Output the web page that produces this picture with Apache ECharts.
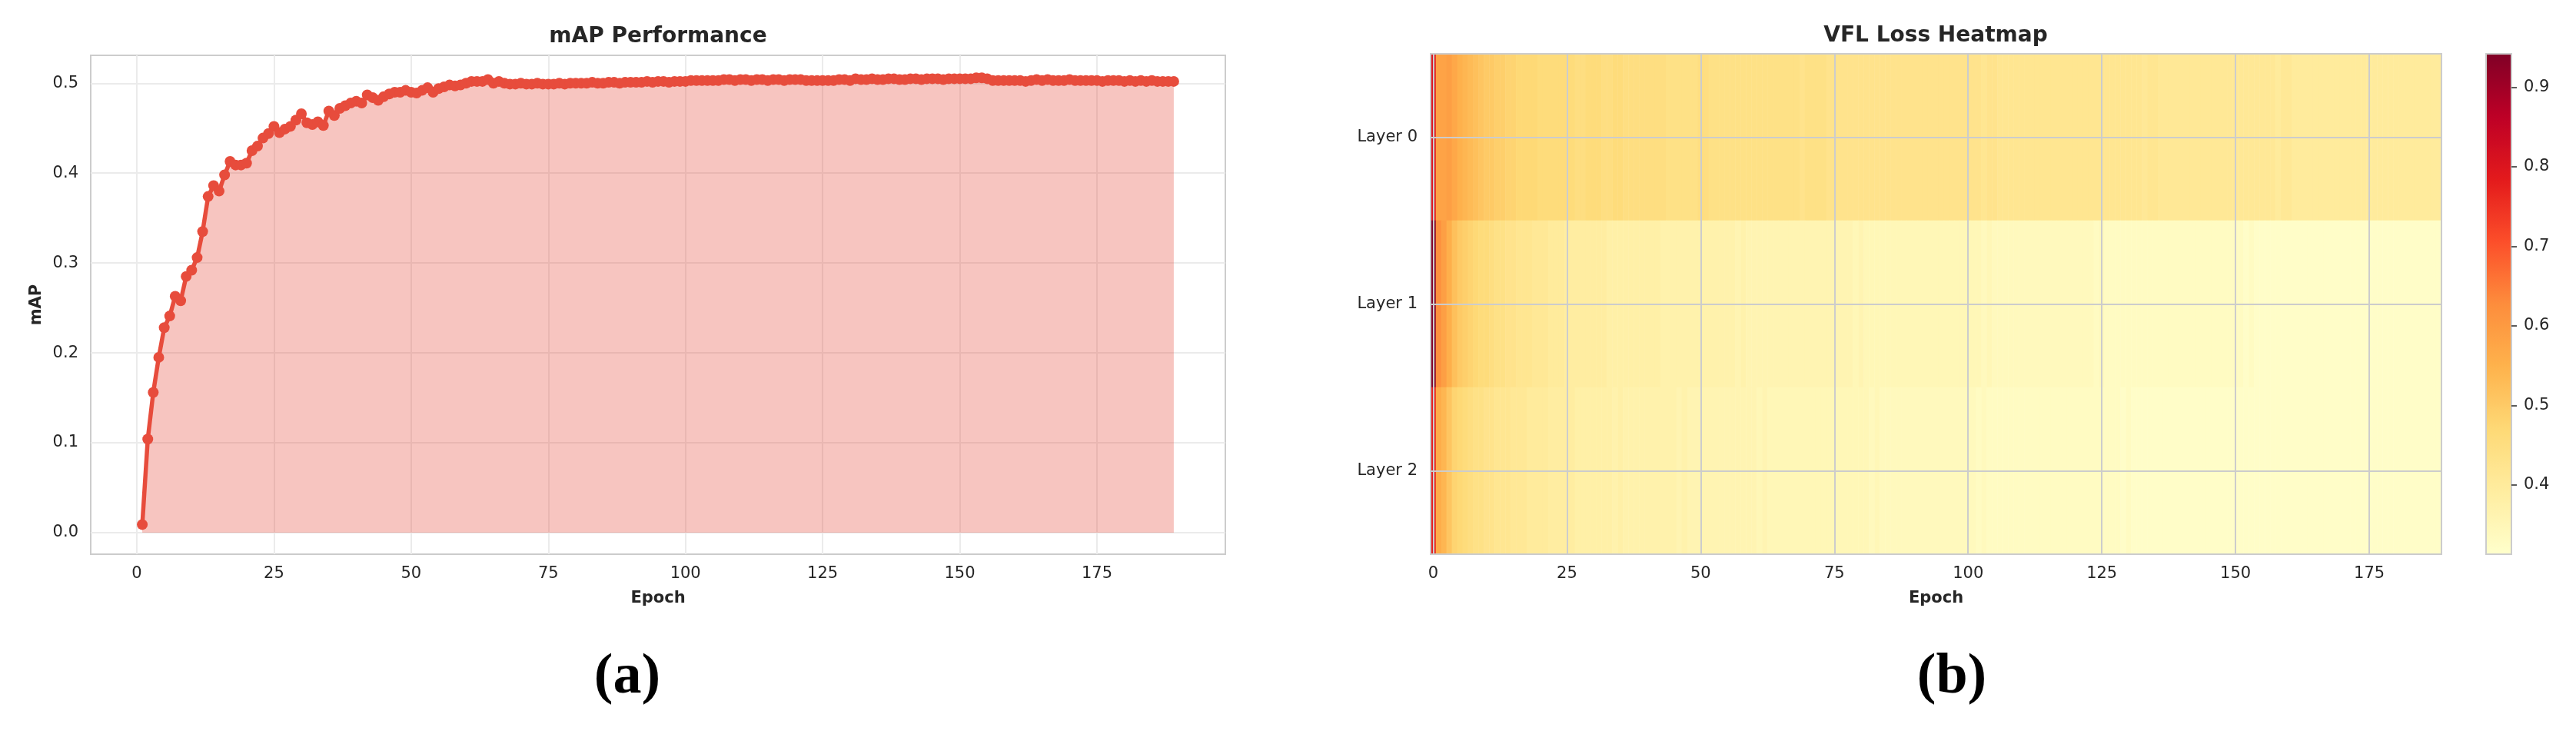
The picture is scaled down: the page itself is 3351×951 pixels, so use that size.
<!DOCTYPE html>
<html>
<head>
<meta charset="utf-8">
<script src="https://cdn.jsdelivr.net/npm/echarts@6.0.0/dist/echarts.min.js"></script>
<style>
  html, body { margin: 0; padding: 0; background: #fff; }
  #chart { width: 3351px; height: 951px; }
</style>
</head>
<body>
<div id="chart"></div>
<script>
// mAP per epoch, epochs 1..189
const mapValues = [
  0.009, 0.104, 0.156, 0.195, 0.228, 0.241, 0.263, 0.258, 0.285, 0.292,
  0.306, 0.335, 0.374, 0.386, 0.380, 0.398, 0.413, 0.409, 0.409, 0.411,
  0.425, 0.430, 0.439, 0.444, 0.452, 0.445, 0.449, 0.452, 0.459, 0.466,
  0.456, 0.454, 0.457, 0.453, 0.469, 0.464, 0.472, 0.475, 0.478, 0.480,
  0.478, 0.487, 0.484, 0.481, 0.485, 0.488, 0.490, 0.490, 0.492, 0.490,
  0.489, 0.492, 0.495, 0.490, 0.494, 0.496, 0.498, 0.497, 0.498, 0.500,
  0.502, 0.502, 0.502, 0.504, 0.500, 0.502, 0.500, 0.499, 0.499, 0.500,
  0.499, 0.499, 0.500, 0.499, 0.499, 0.499, 0.500, 0.499, 0.500, 0.500,
  0.500, 0.500, 0.501, 0.500, 0.500, 0.501, 0.501, 0.500, 0.501, 0.501,
  0.501, 0.501, 0.502, 0.501, 0.502, 0.502, 0.501, 0.502, 0.502, 0.502,
  0.503, 0.503, 0.503, 0.503, 0.503, 0.503, 0.504, 0.504, 0.503, 0.504,
  0.504, 0.503, 0.504, 0.504, 0.503, 0.504, 0.504, 0.503, 0.504, 0.504,
  0.504, 0.503, 0.503, 0.503, 0.503, 0.503, 0.503, 0.504, 0.504, 0.503,
  0.505, 0.504, 0.504, 0.505, 0.504, 0.504, 0.505, 0.505, 0.504, 0.504,
  0.505, 0.505, 0.504, 0.505, 0.505, 0.505, 0.504, 0.505, 0.505, 0.505,
  0.505, 0.505, 0.506, 0.506, 0.505, 0.503, 0.503, 0.503, 0.503, 0.503,
  0.503, 0.502, 0.503, 0.504, 0.503, 0.504, 0.503, 0.503, 0.503, 0.504,
  0.503, 0.503, 0.503, 0.503, 0.503, 0.502, 0.503, 0.503, 0.503, 0.502,
  0.503, 0.502, 0.503, 0.502, 0.503, 0.502, 0.502, 0.502, 0.502
];

// VFL loss per layer, epochs 0..188
const layerNames = ['Layer 0', 'Layer 1', 'Layer 2'];
const layer0Loss = [
  0.80, 0.58, 0.58, 0.59, 0.57, 0.55, 0.54, 0.53, 0.52, 0.51,
  0.50, 0.50, 0.49, 0.49, 0.48, 0.48, 0.47, 0.47, 0.47, 0.47,
  0.46, 0.46, 0.46, 0.46, 0.46, 0.46, 0.46, 0.45, 0.45, 0.46,
  0.46, 0.46, 0.45, 0.45, 0.46, 0.46, 0.45, 0.45, 0.45, 0.45,
  0.45, 0.45, 0.45, 0.45, 0.44, 0.44, 0.44, 0.44, 0.44, 0.44,
  0.45, 0.45, 0.44, 0.44, 0.44, 0.44, 0.44, 0.44, 0.44, 0.44,
  0.44, 0.44, 0.44, 0.44, 0.44, 0.44, 0.44, 0.44, 0.44, 0.43,
  0.44, 0.44, 0.44, 0.44, 0.43, 0.43, 0.43, 0.43, 0.43, 0.43,
  0.43, 0.43, 0.43, 0.43, 0.43, 0.43, 0.43, 0.43, 0.43, 0.43,
  0.43, 0.43, 0.43, 0.43, 0.43, 0.43, 0.43, 0.43, 0.43, 0.43,
  0.43, 0.43, 0.43, 0.42, 0.43, 0.43, 0.42, 0.42, 0.42, 0.42,
  0.42, 0.42, 0.42, 0.42, 0.42, 0.42, 0.42, 0.42, 0.42, 0.42,
  0.42, 0.42, 0.42, 0.42, 0.42, 0.42, 0.42, 0.42, 0.42, 0.42,
  0.42, 0.42, 0.42, 0.41, 0.42, 0.42, 0.41, 0.41, 0.41, 0.41,
  0.41, 0.41, 0.41, 0.41, 0.41, 0.41, 0.41, 0.41, 0.41, 0.41,
  0.41, 0.41, 0.41, 0.41, 0.41, 0.41, 0.41, 0.41, 0.40, 0.41,
  0.41, 0.40, 0.40, 0.40, 0.40, 0.40, 0.40, 0.40, 0.40, 0.40,
  0.40, 0.40, 0.40, 0.40, 0.40, 0.40, 0.40, 0.40, 0.40, 0.40,
  0.40, 0.40, 0.40, 0.40, 0.40, 0.40, 0.40, 0.40, 0.40
];
const layer1Loss = [
  0.94, 0.62, 0.59, 0.555, 0.52, 0.50, 0.49, 0.48, 0.47, 0.46,
  0.46, 0.45, 0.44, 0.44, 0.43, 0.43, 0.42, 0.42, 0.42, 0.41,
  0.41, 0.41, 0.40, 0.40, 0.40, 0.39, 0.39, 0.39, 0.39, 0.39,
  0.39, 0.39, 0.39, 0.38, 0.38, 0.38, 0.38, 0.38, 0.38, 0.38,
  0.38, 0.38, 0.38, 0.37, 0.37, 0.37, 0.37, 0.37, 0.37, 0.37,
  0.37, 0.37, 0.37, 0.37, 0.37, 0.37, 0.37, 0.36, 0.37, 0.36,
  0.36, 0.36, 0.36, 0.36, 0.36, 0.36, 0.36, 0.36, 0.36, 0.36,
  0.36, 0.36, 0.36, 0.36, 0.36, 0.36, 0.36, 0.36, 0.36, 0.35,
  0.36, 0.35, 0.35, 0.35, 0.35, 0.35, 0.35, 0.35, 0.35, 0.35,
  0.35, 0.35, 0.35, 0.35, 0.35, 0.35, 0.35, 0.35, 0.35, 0.35,
  0.35, 0.35, 0.35, 0.34, 0.35, 0.34, 0.34, 0.34, 0.34, 0.34,
  0.34, 0.34, 0.34, 0.34, 0.34, 0.34, 0.34, 0.34, 0.34, 0.34,
  0.34, 0.34, 0.34, 0.34, 0.33, 0.34, 0.33, 0.33, 0.33, 0.33,
  0.33, 0.33, 0.33, 0.33, 0.33, 0.33, 0.33, 0.33, 0.33, 0.33,
  0.33, 0.33, 0.33, 0.33, 0.33, 0.33, 0.33, 0.33, 0.33, 0.33,
  0.33, 0.33, 0.32, 0.33, 0.32, 0.32, 0.32, 0.32, 0.32, 0.32,
  0.32, 0.32, 0.32, 0.32, 0.32, 0.32, 0.32, 0.32, 0.32, 0.32,
  0.32, 0.32, 0.32, 0.32, 0.32, 0.32, 0.32, 0.32, 0.32, 0.32,
  0.32, 0.32, 0.32, 0.32, 0.32, 0.32, 0.32, 0.32, 0.32
];
const layer2Loss = [
  0.78, 0.56, 0.54, 0.51, 0.48, 0.47, 0.46, 0.45, 0.44, 0.44,
  0.43, 0.43, 0.42, 0.42, 0.42, 0.41, 0.41, 0.41, 0.40, 0.40,
  0.40, 0.40, 0.39, 0.39, 0.39, 0.39, 0.39, 0.38, 0.38, 0.38,
  0.38, 0.38, 0.38, 0.38, 0.37, 0.38, 0.37, 0.37, 0.37, 0.37,
  0.37, 0.37, 0.37, 0.37, 0.37, 0.37, 0.36, 0.37, 0.36, 0.36,
  0.36, 0.36, 0.36, 0.36, 0.36, 0.36, 0.36, 0.36, 0.36, 0.36,
  0.36, 0.35, 0.36, 0.35, 0.35, 0.35, 0.35, 0.35, 0.35, 0.35,
  0.35, 0.35, 0.35, 0.35, 0.35, 0.35, 0.35, 0.35, 0.35, 0.35,
  0.35, 0.35, 0.34, 0.35, 0.34, 0.34, 0.34, 0.34, 0.34, 0.34,
  0.34, 0.34, 0.34, 0.34, 0.34, 0.34, 0.34, 0.34, 0.34, 0.34,
  0.34, 0.34, 0.33, 0.34, 0.33, 0.33, 0.33, 0.33, 0.33, 0.33,
  0.33, 0.33, 0.33, 0.33, 0.33, 0.33, 0.33, 0.33, 0.33, 0.33,
  0.33, 0.33, 0.33, 0.33, 0.33, 0.33, 0.33, 0.33, 0.33, 0.32,
  0.33, 0.32, 0.32, 0.32, 0.32, 0.32, 0.32, 0.32, 0.32, 0.32,
  0.32, 0.32, 0.32, 0.32, 0.32, 0.32, 0.32, 0.32, 0.32, 0.32,
  0.32, 0.32, 0.32, 0.32, 0.32, 0.32, 0.32, 0.32, 0.32, 0.32,
  0.32, 0.32, 0.32, 0.32, 0.32, 0.32, 0.32, 0.32, 0.32, 0.32,
  0.32, 0.32, 0.32, 0.32, 0.32, 0.32, 0.32, 0.32, 0.32, 0.32,
  0.32, 0.32, 0.32, 0.32, 0.32, 0.32, 0.32, 0.32, 0.32
];

const mapTicks = [0, 0.1, 0.2, 0.3, 0.4, 0.5];
const epochTicks = [0, 25, 50, 75, 100, 125, 150, 175];
const colorbarTicks = [0.4, 0.5, 0.6, 0.7, 0.8, 0.9];
const lossMin = 0.313;
const lossMax = 0.942;
const ylOrRd = ['#ffffcc', '#ffeda0', '#fed976', '#feb24c', '#fd8d3c', '#fc4e2a', '#e31a1c', '#bd0026', '#800026'];

const FONT = 'DejaVu Sans';
const TXT = '#262626';

const mapData = mapValues.map((v, i) => [i + 1, v]);
const lossRows = [layer0Loss, layer1Loss, layer2Loss];
const heatEpochs = layer0Loss.map((v, i) => String(i));
const heatData = [];
lossRows.forEach((row, r) => {
  row.forEach((v, c) => heatData.push([c, r, v]));
});

const chart = echarts.init(document.getElementById('chart'));
chart.setOption({
  animation: false,
  backgroundColor: '#ffffff',
  textStyle: { fontFamily: FONT },
  graphic: [
    { type: 'text', x: 856, y: 48, style: { text: 'mAP Performance', fontFamily: FONT, fontWeight: 'bold', fontSize: 28, fill: TXT, align: 'center', verticalAlign: 'middle' } },
    { type: 'text', x: 2518, y: 47, style: { text: 'VFL Loss Heatmap', fontFamily: FONT, fontWeight: 'bold', fontSize: 28, fill: TXT, align: 'center', verticalAlign: 'middle' } },
    { type: 'text', x: 816, y: 882, style: { text: '(a)', fontFamily: 'Liberation Serif', fontWeight: 'bold', fontSize: 74, fill: '#000', align: 'center', verticalAlign: 'middle' } },
    { type: 'text', x: 2539, y: 882, style: { text: '(b)', fontFamily: 'Liberation Serif', fontWeight: 'bold', fontSize: 74, fill: '#000', align: 'center', verticalAlign: 'middle' } }
  ],
  grid: [
    { left: 118, top: 72, width: 1476, height: 649, show: true, borderColor: '#cccccc', borderWidth: 2, outerBoundsMode: 'none', containLabel: false },
    { left: 1861, top: 70, width: 1315, height: 651, show: true, borderColor: '#cccccc', borderWidth: 2, z: 3, outerBoundsMode: 'none', containLabel: false },
    { left: 3234, top: 70, width: 33, height: 651, show: true, borderColor: '#cccccc', borderWidth: 2, z: 10, outerBoundsMode: 'none', containLabel: false }
  ],
  xAxis: [
    {
      gridIndex: 0, type: 'value', min: -8.4, max: 198.4,
      name: 'Epoch', nameLocation: 'middle', nameGap: 47,
      nameTextStyle: { fontFamily: FONT, fontWeight: 'bold', fontSize: 21, color: TXT },
      axisLine: { show: false },
      axisTick: { show: false, customValues: epochTicks },
      axisLabel: { customValues: epochTicks, fontSize: 21, color: TXT, margin: 15 },
      splitLine: { show: true, lineStyle: { color: '#ebebeb', width: 2 } }
    },
    {
      gridIndex: 1, type: 'category', data: heatEpochs, z: 3,
      name: 'Epoch', nameLocation: 'middle', nameGap: 47,
      nameTextStyle: { fontFamily: FONT, fontWeight: 'bold', fontSize: 21, color: TXT },
      axisLine: { show: false },
      axisTick: { show: false },
      axisLabel: { interval: (i) => i % 25 === 0, fontSize: 21, color: TXT, margin: 15 },
      splitLine: { show: true, alignWithLabel: true, interval: (i) => i % 25 === 0, lineStyle: { color: '#cccccc', width: 2 } }
    },
    { gridIndex: 2, type: 'category', data: [''], show: false }
  ],
  yAxis: [
    {
      gridIndex: 0, type: 'value', min: -0.024, max: 0.531,
      name: 'mAP', nameLocation: 'middle', nameGap: 60,
      nameTextStyle: { fontFamily: FONT, fontWeight: 'bold', fontSize: 21, color: TXT },
      axisLine: { show: false },
      axisTick: { show: false, customValues: mapTicks },
      axisLabel: { customValues: mapTicks, formatter: (v) => v.toFixed(1), fontSize: 21, color: TXT, margin: 16 },
      splitLine: { show: true, lineStyle: { color: '#ebebeb', width: 2 } }
    },
    {
      gridIndex: 1, type: 'category', data: layerNames, inverse: true, z: 3,
      axisLine: { show: false },
      axisTick: { show: false },
      axisLabel: { fontSize: 21, color: TXT, margin: 17 },
      splitLine: { show: true, alignWithLabel: true, interval: 0, lineStyle: { color: '#cccccc', width: 2 } }
    },
    {
      gridIndex: 2, type: 'value', min: lossMin, max: lossMax, position: 'right', z: 10,
      axisLine: { show: false },
      axisTick: { show: true, customValues: colorbarTicks, length: 7, lineStyle: { color: TXT, width: 1.5 } },
      axisLabel: { customValues: colorbarTicks, formatter: (v) => v.toFixed(1), fontSize: 21, color: TXT, margin: 16 },
      splitLine: { show: false }
    }
  ],
  visualMap: {
    type: 'continuous', min: lossMin, max: lossMax, seriesIndex: 1,
    orient: 'vertical', left: 3234, top: 70, itemWidth: 33, itemHeight: 651,
    padding: 0, calculable: false, hoverLink: false,
    inRange: { color: ylOrRd }
  },
  series: [
    {
      type: 'line', xAxisIndex: 0, yAxisIndex: 0, data: mapData,
      symbol: 'circle', symbolSize: 14, showAllSymbol: true,
      lineStyle: { color: '#e74c3c', width: 5.5 },
      itemStyle: { color: '#e74c3c' },
      areaStyle: { color: '#e74c3c', opacity: 0.32 },
      emphasis: { disabled: true }
    },
    {
      type: 'heatmap', xAxisIndex: 1, yAxisIndex: 1, data: heatData,
      progressive: 0,
      itemStyle: { borderWidth: 0 },
      emphasis: { disabled: true }
    }
  ]
});
</script>
</body>
</html>
